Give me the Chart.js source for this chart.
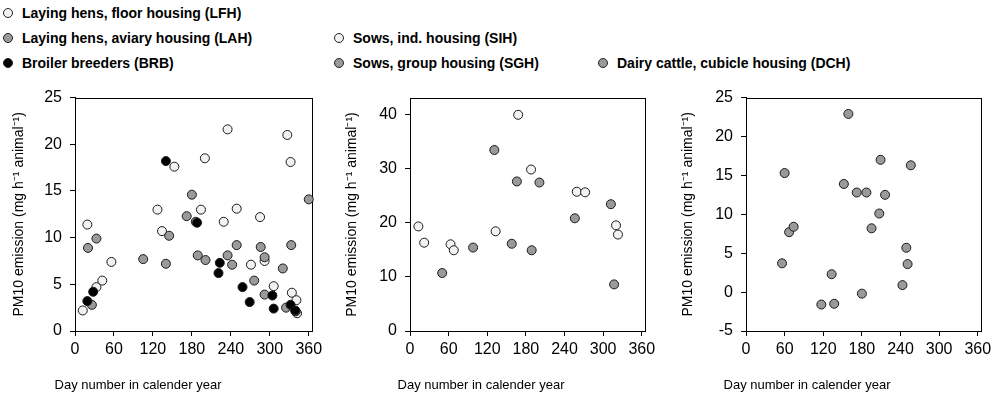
<!DOCTYPE html>
<html>
<head>
<meta charset="utf-8">
<script src="https://cdn.jsdelivr.net/npm/chart.js@4.4.1/dist/chart.umd.min.js"></script>
<style>
  html, body { margin: 0; padding: 0; background: #fff; }
  #wrap { position: relative; width: 1000px; height: 395px; overflow: hidden;
          font-family: Arial, "Liberation Sans", sans-serif; }
  .panel { position: absolute; top: 80px; height: 315px; }
  .key { position: absolute; font-weight: bold; font-size: 14px; line-height: 16px;
         color: #000; white-space: nowrap; }
  .key i { position: absolute; top: 3px; width: 8px; height: 8px;
           border: 1px solid #222; border-radius: 50%; }
</style>
</head>
<body>
<div id="wrap">
  <div id="keys"></div>
  <canvas id="c1" class="panel" width="330" height="315" style="left:0px"></canvas>
  <canvas id="c2" class="panel" width="330" height="315" style="left:330px"></canvas>
  <canvas id="c3" class="panel" width="335" height="315" style="left:665px"></canvas>
</div>
<script>
// Day of year and PM10 emission (mg h-1 animal-1) per housing system
const lfhDay  = [12, 19, 33, 42, 56, 127, 134, 153, 194, 200, 229, 235, 249, 271, 285, 292, 306, 327, 332, 334, 341, 342];
const lfhPm10 = [2.2, 11.4, 4.7, 5.4, 7.4, 13.0, 10.7, 17.6, 13.0, 18.5, 11.7, 21.6, 13.1, 7.1, 12.2, 7.5, 4.8, 21.0, 18.1, 4.1, 3.3, 1.9];

const lahDay  = [20, 26, 33, 105, 140, 145, 172, 180, 186, 189, 201, 235, 242, 249, 276, 286, 292, 292, 320, 325, 333, 340, 360];
const lahPm10 = [8.9, 2.8, 9.9, 7.7, 7.2, 10.2, 12.3, 14.6, 11.7, 8.1, 7.6, 8.1, 7.1, 9.2, 5.4, 9.0, 7.9, 3.9, 6.7, 2.5, 9.2, 2.1, 14.1];

const brbDay  = [19, 28, 140, 188, 221, 223, 258, 269, 304, 306, 332, 339];
const brbPm10 = [3.2, 4.2, 18.2, 11.6, 6.2, 7.3, 4.7, 3.1, 3.8, 2.4, 2.8, 2.2];

const sihDay  = [13, 22, 63, 68, 133, 168, 188, 259, 272, 320, 323];
const sihPm10 = [19.3, 16.3, 16.0, 14.9, 18.4, 39.9, 29.8, 25.7, 25.6, 19.5, 17.8];

const sghDay  = [50, 98, 131, 158, 166, 189, 201, 256, 312, 317];
const sghPm10 = [10.7, 15.4, 33.4, 16.1, 27.6, 14.9, 27.4, 20.8, 23.4, 8.6];

const dchDay  = [56, 60, 67, 74, 117, 133, 137, 152, 159, 172, 180, 187, 195, 207, 209, 216, 243, 249, 251, 256];
const dchPm10 = [3.7, 15.3, 7.7, 8.4, -1.6, 2.3, -1.5, 13.9, 22.9, 12.8, -0.2, 12.8, 8.2, 10.1, 17.0, 12.5, 0.9, 5.7, 3.6, 16.3];

const dayTicks = [0, 60, 120, 180, 240, 300, 360];

const series = {
  LFH: { label: 'Laying hens, floor housing (LFH)',  fill: '#f2f2f2', day: lfhDay, pm: lfhPm10 },
  LAH: { label: 'Laying hens, aviary housing (LAH)', fill: '#9a9a9a', day: lahDay, pm: lahPm10 },
  BRB: { label: 'Broiler breeders (BRB)',            fill: '#000000', day: brbDay, pm: brbPm10 },
  SIH: { label: 'Sows, ind. housing (SIH)',          fill: '#f2f2f2', day: sihDay, pm: sihPm10 },
  SGH: { label: 'Sows, group housing (SGH)',         fill: '#9a9a9a', day: sghDay, pm: sghPm10 },
  DCH: { label: 'Dairy cattle, cubicle housing (DCH)', fill: '#9a9a9a', day: dchDay, pm: dchPm10 }
};

// Legend block: [series key, text left, row centre]
const keyPlaces = [
  ['LFH', 22, 12.5], ['LAH', 22, 38], ['BRB', 22, 63],
  ['SIH', 353, 38], ['SGH', 353, 63],
  ['DCH', 617, 63]
];
const keys = document.getElementById('keys');
keyPlaces.forEach(([k, x, y]) => {
  const d = document.createElement('div');
  d.className = 'key';
  d.style.left = x + 'px';
  d.style.top = (y - 8) + 'px';
  const dot = document.createElement('i');
  dot.style.left = '-19px';
  dot.style.background = series[k].fill;
  d.appendChild(dot);
  d.appendChild(document.createTextNode(series[k].label));
  keys.appendChild(d);
});

function toDataset(k) {
  const s = series[k];
  return {
    label: s.label,
    data: s.day.map((d, i) => ({ x: d, y: s.pm[i] })),
    backgroundColor: s.fill,
    borderColor: '#1a1a1a',
    borderWidth: 1,
    pointRadius: 4.5,
    pointHoverRadius: 4.5,
    pointStyle: 'circle',
    clip: false
  };
}

// Frame round the plot area and the x-axis caption
const framePlugin = {
  id: 'frame',
  beforeDatasetsDraw(chart) {
    const { ctx, chartArea: a } = chart;
    ctx.save();
    ctx.strokeStyle = '#000';
    ctx.lineWidth = 1;
    ctx.strokeRect(Math.round(a.left) + 0.5, Math.round(a.top) + 0.5,
                   Math.round(a.right - a.left), Math.round(a.bottom - a.top));
    ctx.restore();
  },
  afterDraw(chart, args, opts) {
    const { ctx } = chart;
    ctx.save();
    ctx.fillStyle = '#000';
    ctx.font = '13px Arial, "Liberation Sans", sans-serif';
    ctx.textAlign = 'center';
    ctx.textBaseline = 'middle';
    ctx.fillText(opts.text, opts.x, opts.y);
    ctx.restore();
  }
};

const CANVAS_TOP = 80, CANVAS_H = 315;

function makePanel(id, canvasLeft, canvasW, keysOf, yMin, yMax, yStep, area, yTitlePad, xCaptionX) {
  const yTicks = [];
  for (let v = yMin; v <= yMax + 1e-9; v += yStep) yTicks.push(v);
  new Chart(document.getElementById(id), {
    type: 'scatter',
    data: { datasets: keysOf.map(toDataset) },
    plugins: [framePlugin],
    options: {
      responsive: false,
      animation: false,
      events: [],
      layout: {
        padding: { left: 0, top: area.top - CANVAS_TOP, right: canvasW - (area.right - canvasLeft), bottom: 0 }
      },
      plugins: {
        legend: { display: false },
        tooltip: { enabled: false },
        frame: { text: 'Day number in calender year', x: xCaptionX - canvasLeft, y: 385 - CANVAS_TOP }
      },
      scales: {
        x: {
          type: 'linear', min: 0, max: 365,
          afterBuildTicks: s => { s.ticks = dayTicks.map(v => ({ value: v })); },
          afterFit: s => { s.height = CANVAS_H - (area.bottom - CANVAS_TOP); },
          border: { color: '#000', width: 1 },
          grid: { drawOnChartArea: false, drawTicks: true, tickLength: 5, color: '#000', lineWidth: 1 },
          ticks: { color: '#000', font: { size: 16, family: 'Arial, "Liberation Sans", sans-serif' },
                   padding: 4, maxRotation: 0, autoSkip: false }
        },
        y: {
          type: 'linear', min: yMin, max: yMax,
          afterBuildTicks: s => { s.ticks = yTicks.filter(v => v <= yMax).map(v => ({ value: v })); },
          afterFit: s => { s.width = area.left - canvasLeft; },
          border: { color: '#000', width: 1 },
          grid: { drawOnChartArea: false, drawTicks: true, tickLength: 5, color: '#000', lineWidth: 1 },
          ticks: { color: '#000', font: { size: 16, family: 'Arial, "Liberation Sans", sans-serif' },
                   padding: 8 },
          title: {
            display: true,
            text: 'PM10 emission (mg h\u207B\u00B9 animal\u207B\u00B9)',
            color: '#000',
            font: { size: 14, family: 'Arial, "Liberation Sans", sans-serif' },
            padding: { top: yTitlePad, bottom: 0 }
          }
        }
      }
    }
  });
}

makePanel('c1', 0,   330, ['BRB', 'LAH', 'LFH'], 0, 25, 5,  { left: 75,  right: 312, top: 97, bottom: 331 }, 11, 138);
makePanel('c2', 330, 330, ['SIH', 'SGH'],        0, 43, 10, { left: 410, right: 645, top: 98, bottom: 331 }, 14, 481);
makePanel('c3', 665, 335, ['DCH'],              -5, 25, 5,  { left: 746, right: 981, top: 97, bottom: 331 }, 15, 807);
</script>
</body>
</html>
